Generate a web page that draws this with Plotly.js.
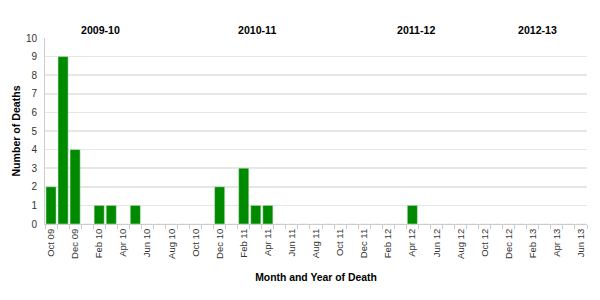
<!DOCTYPE html>
<html><head><meta charset="utf-8">
<script src="https://cdn.plot.ly/plotly-3.0.1.min.js"></script>
<style>html,body{margin:0;padding:0;background:#fff}#c{width:600px;height:300px}</style>
</head><body><div id="c"></div>
<script>
const months = ["Oct 09","Nov 09","Dec 09","Jan 10","Feb 10","Mar 10","Apr 10","May 10","Jun 10","Jul 10","Aug 10","Sep 10","Oct 10","Nov 10","Dec 10","Jan 11","Feb 11","Mar 11","Apr 11","May 11","Jun 11","Jul 11","Aug 11","Sep 11","Oct 11","Nov 11","Dec 11","Jan 12","Feb 12","Mar 12","Apr 12","May 12","Jun 12","Jul 12","Aug 12","Sep 12","Oct 12","Nov 12","Dec 12","Jan 13","Feb 13","Mar 13","Apr 13","May 13","Jun 13"];
const deaths = [2,9,4,0,1,1,0,1,0,0,0,0,0,0,2,0,3,1,1,0,0,0,0,0,0,0,0,0,0,0,1,0,0,0,0,0,0,0,0,0,0,0,0,0,0];
const shownLabels = ["Oct 09","Dec 09","Feb 10","Apr 10","Jun 10","Aug 10","Oct 10","Dec 10","Feb 11","Apr 11","Jun 11","Aug 11","Oct 11","Dec 11","Feb 12","Apr 12","Jun 12","Aug 12","Oct 12","Dec 12","Feb 13","Apr 13","Jun 13"];
const seasons = ["2009-10","2010-11","2011-12","2012-13"];
const seasonPos = [4.1,17.1,30.3,40.4];

const tickText = months.map(m => shownLabels.includes(m) ? m : "");
const font = "Liberation Sans, Arial, sans-serif";

const data = [{
  type: "bar", x: months, y: deaths,
  marker: {color: "#008a00", line: {color: "#d8ecd8", width: 0.5}},
  hoverinfo: "x+y"
}];

const layout = {
  width: 600, height: 300,
  margin: {l: 45, r: 13, t: 38, b: 76},
  paper_bgcolor: "#fff", plot_bgcolor: "#fff",
  bargap: 0.16,
  showlegend: false,
  font: {family: font, color: "#444", size: 9},
  xaxis: {
    type: "category",
    tickvals: months, ticktext: tickText,
    tickangle: -90,
    tickson: "boundaries",
    ticks: "outside", ticklen: 4, tickcolor: "#ccc",
    showgrid: false,
    showline: true, linecolor: "#ccc", linewidth: 1,
    tickfont: {size: 9.5, color: "#333", family: font},
    title: {text: "<b>Month and Year of Death</b>", font: {size: 10.4, color: "#000", family: font}, standoff: 15}
  },
  yaxis: {
    range: [0, 10], dtick: 1,
    showgrid: true, gridcolor: "#e6e6e6", gridwidth: 1.6,
    showline: true, linecolor: "#ccc", linewidth: 1,
    zeroline: false,
    ticks: "outside", ticklen: 5, tickcolor: "rgba(0,0,0,0)",
    tickfont: {size: 10, color: "#333", family: font},
    title: {text: "<b>Number of Deaths</b>", font: {size: 10.6, color: "#000", family: font}, standoff: 3}
  },
  annotations: seasons.map((s, i) => ({
    text: "<b>" + s + "</b>", x: seasonPos[i], xref: "x", y: 1.0, yref: "paper",
    yanchor: "bottom", yshift: 0, showarrow: false,
    font: {size: 10.6, color: "#000", family: font}
  }))
};

Plotly.newPlot("c", data, layout, {displayModeBar: false, staticPlot: true});
</script></body></html>
